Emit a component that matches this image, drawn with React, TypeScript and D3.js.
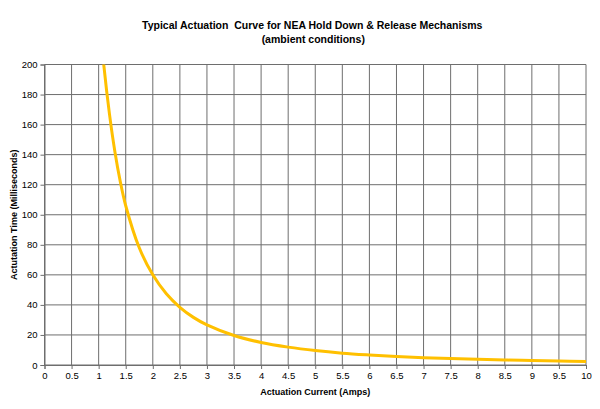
import { FunctionComponent, useRef, useEffect } from "react";
import * as d3 from "d3";

// values
const currents = [1.05, 1.1, 1.2, 1.3, 1.4, 1.5, 1.75, 2, 2.25, 2.5, 2.75, 3, 3.5, 4, 4.5, 5, 5.5, 6, 6.5, 7, 7.5, 8, 8.5, 9, 9.5, 10];
const times = [218, 198, 167, 142, 122, 106, 78, 60, 47.4, 38.4, 31.7, 26.7, 19.6, 15, 11.9, 9.6, 7.9, 6.7, 5.7, 4.9, 4.3, 3.8, 3.3, 3.0, 2.7, 2.4];
const xTicks = d3.range(0, 10.01, 0.5);
const yTicks = [0, 20, 40, 60, 80, 100, 120, 140, 160, 180, 200];

const W = 600, H = 409;
const left = 44.5, right = 586, top = 64.5, bottom = 365;
const font = "'Liberation Sans', Arial, sans-serif";

const Chart: FunctionComponent = () => {
    const container = useRef<SVGSVGElement>(null);

    useEffect(draw, []);

    function draw() {
        if (!container.current) return;
        const svg = d3.select(container.current);
        svg.selectAll("*").remove();

        const x = d3.scaleLinear().domain([0, 10]).range([left, right]);
        const y = d3.scaleLinear().domain([0, 200]).range([bottom, top]);

        svg.append("defs").append("clipPath").attr("id", "plot")
            .append("rect")
            .attr("x", left).attr("y", top)
            .attr("width", right - left).attr("height", bottom - top);

        // grid
        const grid = svg.append("g").attr("stroke", "#6e6e6e").attr("stroke-width", 1);
        grid.selectAll("line.v").data(xTicks).join("line")
            .attr("class", "v")
            .attr("x1", d => x(d)).attr("x2", d => x(d))
            .attr("y1", top).attr("y2", bottom);
        grid.selectAll("line.h").data(yTicks).join("line")
            .attr("class", "h")
            .attr("x1", left).attr("x2", right)
            .attr("y1", d => y(d)).attr("y2", d => y(d));

        // axes
        const xAxis = svg.append("g")
            .attr("transform", `translate(0,${bottom})`)
            .call(d3.axisBottom(x).tickValues(xTicks).tickSize(4).tickPadding(3).tickFormat(d3.format("")));
        const yAxis = svg.append("g")
            .attr("transform", `translate(${left},0)`)
            .call(d3.axisLeft(y).tickValues(yTicks).tickSize(4).tickPadding(3));
        [xAxis, yAxis].forEach(a => {
            a.selectAll("path, line").attr("stroke", "#6e6e6e");
            a.selectAll("text").attr("font-family", font).attr("font-size", 9.5).attr("fill", "#000");
        });

        // curve
        const line = d3.line<number>()
            .x((_, i) => x(currents[i]))
            .y(d => y(d))
            .curve(d3.curveCatmullRom);
        svg.append("path")
            .datum(times)
            .attr("clip-path", "url(#plot)")
            .attr("fill", "none")
            .attr("stroke", "#FFC000")
            .attr("stroke-width", 3)
            .attr("d", line);

        // titles
        const cx = (left + right) / 2;
        svg.append("text")
            .attr("x", cx - 3).attr("y", 29)
            .attr("text-anchor", "middle")
            .attr("font-family", font).attr("font-size", 10.5).attr("font-weight", "bold")
            .attr("xml:space", "preserve")
            .text("Typical Actuation  Curve for NEA Hold Down & Release Mechanisms");
        svg.append("text")
            .attr("x", cx - 2).attr("y", 43)
            .attr("text-anchor", "middle")
            .attr("font-family", font).attr("font-size", 10.5).attr("font-weight", "bold")
            .text("(ambient conditions)");
        svg.append("text")
            .attr("x", cx).attr("y", 395)
            .attr("text-anchor", "middle")
            .attr("font-family", font).attr("font-size", 9).attr("font-weight", "bold")
            .text("Actuation Current (Amps)");
        svg.append("text")
            .attr("transform", `translate(17,${(top + bottom) / 2}) rotate(-90)`)
            .attr("text-anchor", "middle")
            .attr("font-family", font).attr("font-size", 9).attr("font-weight", "bold")
            .text("Actutation Time (Milliseconds)");
    }

    return (
        <svg ref={container} width={W} height={H}
            style={{ position: "absolute", left: 0, top: 0, background: "#fff" }} />
    );
};

export default function App() {
    return <Chart />;
}
